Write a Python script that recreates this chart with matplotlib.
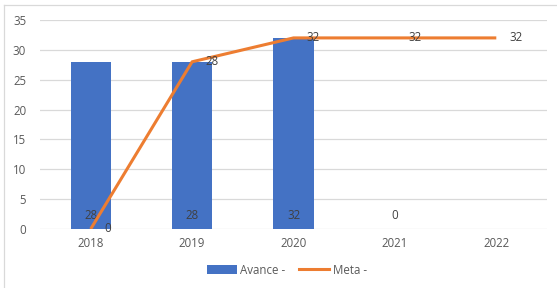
import numpy as np
import matplotlib.pyplot as plt
from matplotlib.lines import Line2D
from matplotlib.patches import Patch

years = ["2018", "2019", "2020", "2021", "2022"]
avance = [28, 28, 32, 0, np.nan]
meta = [0, 28, 32, 32, 32]

blue = "#4472C4"
orange = "#ED7D31"
text_col = "#595959"
grid_col = "#D9D9D9"

plt.rcParams["font.family"] = ["Open Sans", "DejaVu Sans"]
fs = 8.3

fig = plt.figure(figsize=(5.57, 2.88), dpi=100)
ax = fig.add_axes([40 / 557, 59 / 288, 507 / 557, 209 / 288])

x = np.arange(len(years))
ax.bar(x, avance, width=0.395, color=blue, zorder=2)
ax.plot(x, meta, color=orange, lw=2.2, zorder=4, solid_capstyle="butt")

# bar labels (inside base)
for xi, v in zip(x, avance):
    if not np.isnan(v):
        ax.text(xi, 2.3, f"{v:g}", ha="center", va="center",
                fontsize=fs, color="#404040", zorder=3)

# line labels (right)
for xi, v in zip(x, meta):
    ax.text(xi + 0.13, v, f"{v:g}", ha="left", va="center",
            fontsize=fs, color="#404040", zorder=5)

ax.set_xlim(-0.5, 4.5)
ax.set_ylim(0, 35)
ax.set_yticks(range(0, 36, 5))
ax.set_xticks(x)
ax.set_xticklabels(years)
ax.yaxis.grid(True, color=grid_col, lw=0.9, zorder=0)
ax.set_axisbelow(True)
for s in ax.spines.values():
    s.set_visible(False)
ax.tick_params(length=0, labelsize=fs, labelcolor=text_col)
ax.tick_params(axis="y", pad=10)
ax.tick_params(axis="x", pad=6)

handles = [Patch(facecolor=blue), Line2D([0], [0], color=orange, lw=2.2)]
fig.legend(handles, ["Avance -", "Meta -"], loc="center",
           bbox_to_anchor=(287 / 557, 1 - 270 / 288), ncol=2, frameon=False,
           fontsize=fs, labelcolor=text_col, handlelength=2.6,
           handleheight=0.8, handletextpad=0.3, columnspacing=1.2)

# chart area border (left and top edges visible)
fig.add_artist(Line2D([4 / 557, 4 / 557], [0, 1 - 5 / 288],
                      transform=fig.transFigure, color=grid_col, lw=0.9))
fig.add_artist(Line2D([4 / 557, 1], [1 - 5 / 288, 1 - 5 / 288],
                      transform=fig.transFigure, color=grid_col, lw=0.9))

fig.savefig("out.png", dpi=100)
